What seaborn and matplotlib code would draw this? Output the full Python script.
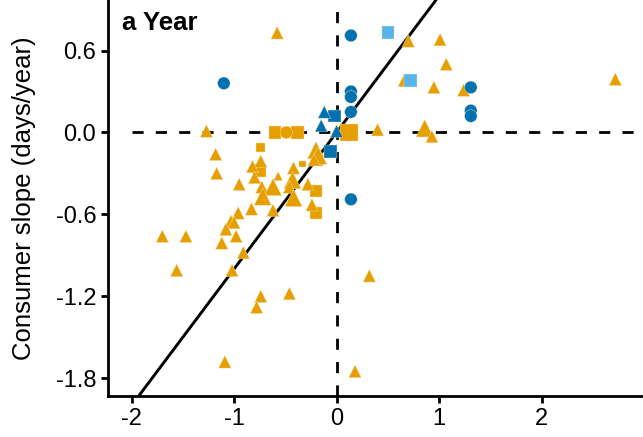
import matplotlib
matplotlib.use("Agg")
import matplotlib.pyplot as plt
import pandas as pd
import seaborn as sns

# consumer vs resource phenology slopes (days/year)
x_vals = [
    # blue circles
    -1.10, 0.14, 0.14, 0.14, 0.14, 0.14, 1.31, 1.31, 1.31,
    # blue squares
    -0.02, -0.06,
    # light blue squares
    0.50, 0.72,
    # blue triangles
    -0.12, -0.15, 0.00,
    # orange squares
    0.12, -0.60, -0.38, -0.20, -0.20, -0.19, -0.74, -0.33, -0.75,
    # orange circle
    -0.49,
    # orange triangles
    -1.27, -1.18, -1.17, -0.74, -0.82, -0.80, -0.95, -0.57, -0.42, -0.73,
    -0.62, -0.43, -0.46, -0.28, -0.72, -0.42, -0.83, -0.62, -0.24, -0.20,
    -0.18, -0.22, -0.96, -1.03, -1.00, -1.08, -0.98, -1.12, -0.91, -1.70,
    -1.47, -1.56, -1.02, -0.74, -0.78, -0.46, -1.09, 0.18, 0.32, 0.70,
    1.01, 1.07, 0.66, 0.95, 1.24, 2.72, 0.40, 0.86, 0.93, -0.58,
]
y_vals = [
    0.36, 0.71, 0.30, 0.26, 0.15, -0.49, 0.33, 0.16, 0.12,
    0.12, -0.14,
    0.73, 0.38,
    0.15, 0.05, 0.01,
    0.00, 0.00, 0.00, -0.43, -0.59, -0.20, -0.11, -0.23, -0.28,
    0.00,
    0.01, -0.16, -0.30, -0.21, -0.25, -0.33, -0.38, -0.32, -0.26, -0.40,
    -0.40, -0.35, -0.40, -0.38, -0.47, -0.48, -0.56, -0.57, -0.53, -0.13,
    -0.17, -0.20, -0.59, -0.65, -0.66, -0.71, -0.76, -0.81, -0.88, -0.76,
    -0.76, -1.01, -1.01, -1.20, -1.28, -1.18, -1.68, -1.75, -1.05, 0.67,
    0.68, 0.50, 0.38, 0.33, 0.31, 0.39, 0.02, 0.03, -0.03, 0.73,
]
group = (["B"] * 9 + ["B"] * 2 + ["C"] * 2 + ["B"] * 3
         + ["A"] * 9 + ["A"] + ["A"] * 50)
shape = (["circ"] * 9 + ["sq"] * 2 + ["sq"] * 2 + ["tri"] * 3
         + ["sq"] * 9 + ["circ"] + ["tri"] * 50)
size_cls = (["M"] * 16
            + ["L", "M", "M", "M", "M", "M", "S", "XS", "M"]
            + ["M"]
            + ["M"] * 7 + ["S"] + ["M"] * 2
            + ["L", "L", "M", "M", "L", "L", "M", "M", "M", "L"]
            + ["L"] + ["M"] * 26 + ["L", "M", "M"])

fit_intercept = 0.0
fit_slope = 1.0

df = pd.DataFrame({"x": x_vals, "y": y_vals, "group": group,
                   "shape": shape, "size": size_cls})
# orange drawn first so the blue points sit on top
df = df.sort_values("group", kind="stable")

sns.set_style("ticks")
plt.rcParams["font.family"] = ["Liberation Sans", "DejaVu Sans"]
plt.rcParams["text.color"] = "black"
plt.rcParams["axes.labelcolor"] = "black"
plt.rcParams["xtick.color"] = "black"
plt.rcParams["ytick.color"] = "black"
plt.rcParams["axes.edgecolor"] = "black"

fig = plt.figure(figsize=(6.43, 4.37), dpi=100)
ax = fig.add_axes([0.168, 0.094, 0.832, 0.906])

dash = (0, (4.0, 4.4))
ax.hlines(0, -2, 3.2, color="black", lw=2.0, ls=dash, zorder=1)
ax.axvline(0, color="black", lw=2.0, ls=dash, zorder=1)
ax.axline((0, fit_intercept), slope=fit_slope, color="black", lw=2.1, zorder=1)

sns.scatterplot(data=df, x="x", y="y", hue="group", style="shape", size="size",
                palette={"A": "#E69F00", "B": "#0072B2", "C": "#56B4E9"},
                markers={"tri": "^", "circ": "o", "sq": "s"},
                sizes={"XS": 22, "S": 42, "M": 82, "L": 155},
                edgecolor="#f8e0b0", linewidth=0.3, legend=False, ax=ax, zorder=3)

ax.set_xlim(-2.23, 2.99)
ax.set_ylim(-1.93, 0.97)
ax.set_xticks([-2, -1, 0, 1, 2])
ax.set_xticklabels(["-2", "-1", "0", "1", "2"])
ax.set_yticks([-1.8, -1.2, -0.6, 0.0, 0.6])
ax.set_yticklabels(["-1.8", "-1.2", "-0.6", "0.0", "0.6"])
ax.set_xlabel("")
ax.set_ylabel("Consumer slope (days/year)", fontsize=18.5, labelpad=14)
ax.tick_params(labelsize=17, width=2.0, length=5, color="black")
sns.despine(ax=ax)
for sp in ["left", "bottom"]:
    ax.spines[sp].set_linewidth(2.0)

ax.text(0.026, 0.972, "a Year", transform=ax.transAxes, fontsize=18.5,
        fontweight="bold", va="top", ha="left")

fig.savefig("out.png", dpi=100)
